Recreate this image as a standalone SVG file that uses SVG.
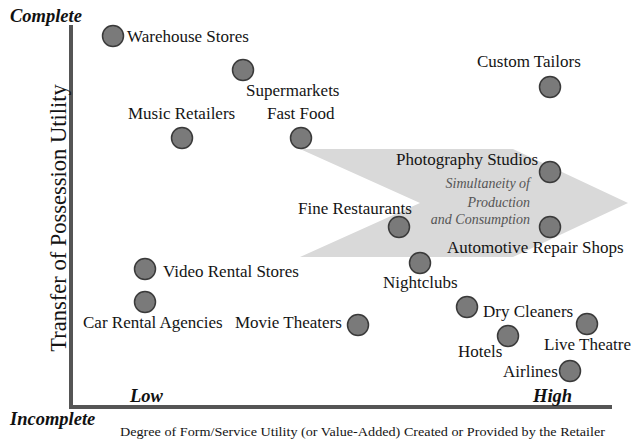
<svg xmlns="http://www.w3.org/2000/svg" width="631" height="440" viewBox="0 0 631 440">
<style>
.bg{fill:#ffffff}
.dot{fill:#7a7a7a;stroke:#3a3a3a;stroke-width:1.5}
.lbl{font-family:"Liberation Serif","Times New Roman",serif;font-size:17px;fill:#141414}
.ax{stroke:#555555;stroke-width:4;fill:none}
.end{font-family:"Liberation Serif","Times New Roman",serif;font-size:18.5px;font-weight:bold;font-style:italic;fill:#111111}
.note{font-family:"Liberation Serif","Times New Roman",serif;font-size:14px;font-style:italic;fill:#555555}
.axlbl{font-family:"Liberation Serif","Times New Roman",serif;fill:#141414}
</style>
<rect class="bg" x="0" y="0" width="631" height="440"/>
<g id="arrow">
<polygon points="300,149 513,149 628,203 513,257 300,257 420,203" fill="#d9d9d9"/>
<text class="note" x="530" y="188" text-anchor="end">Simultaneity of</text>
<text class="note" x="530" y="207" text-anchor="end">Production</text>
<text class="note" x="530" y="224" text-anchor="end">and Consumption</text>
</g>
<g id="connectors">
<polyline class="ax" points="71,25 71,407 612,407"/>
</g>
<g id="axis-labels">
<text class="end" x="10" y="22">Complete</text>
<text class="end" x="10" y="425">Incomplete</text>
<text class="end" x="130" y="402">Low</text>
<text class="end" x="533" y="402">High</text>
<text class="axlbl" x="120" y="436" font-size="13" textLength="485" lengthAdjust="spacingAndGlyphs">Degree of Form/Service Utility (or Value-Added) Created or Provided by the Retailer</text>
<text class="axlbl" x="0" y="0" font-size="22.5" text-anchor="middle" transform="translate(66,218) rotate(-90)">Transfer of Possession Utility</text>
</g>
<g id="warehouse-stores"><circle class="dot" cx="113" cy="36" r="10.5"/><text class="lbl" x="127" y="42">Warehouse Stores</text></g>
<g id="supermarkets"><circle class="dot" cx="243" cy="70" r="10.5"/><text class="lbl" x="246" y="96">Supermarkets</text></g>
<g id="music-retailers"><circle class="dot" cx="182" cy="138" r="10.5"/><text class="lbl" x="128" y="119">Music Retailers</text></g>
<g id="fast-food"><circle class="dot" cx="301" cy="138" r="10.5"/><text class="lbl" x="267" y="119">Fast Food</text></g>
<g id="custom-tailors"><circle class="dot" cx="550" cy="87" r="10.5"/><text class="lbl" x="477" y="67">Custom Tailors</text></g>
<g id="photography-studios"><circle class="dot" cx="550" cy="172" r="10.5"/><text class="lbl" x="396" y="165">Photography Studios</text></g>
<g id="fine-restaurants"><circle class="dot" cx="399" cy="227" r="10.5"/><text class="lbl" x="298" y="214">Fine Restaurants</text></g>
<g id="automotive-repair-shops"><circle class="dot" cx="550" cy="227" r="10.5"/><text class="lbl" x="447" y="253">Automotive Repair Shops</text></g>
<g id="nightclubs"><circle class="dot" cx="420" cy="263" r="10.5"/><text class="lbl" x="383" y="288">Nightclubs</text></g>
<g id="video-rental-stores"><circle class="dot" cx="145" cy="269" r="10.5"/><text class="lbl" x="163" y="277">Video Rental Stores</text></g>
<g id="car-rental-agencies"><circle class="dot" cx="145" cy="302" r="10.5"/><text class="lbl" x="83" y="328">Car Rental Agencies</text></g>
<g id="movie-theaters"><circle class="dot" cx="358" cy="325" r="10.5"/><text class="lbl" x="235" y="328">Movie Theaters</text></g>
<g id="dry-cleaners"><circle class="dot" cx="467" cy="307" r="10.5"/><text class="lbl" x="483" y="317">Dry Cleaners</text></g>
<g id="hotels"><circle class="dot" cx="508" cy="336" r="10.5"/><text class="lbl" x="458" y="357">Hotels</text></g>
<g id="live-theatre"><circle class="dot" cx="587" cy="324" r="10.5"/><text class="lbl" x="544" y="350">Live Theatre</text></g>
<g id="airlines"><circle class="dot" cx="570" cy="371" r="10.5"/><text class="lbl" x="503" y="377">Airlines</text></g>
</svg>
